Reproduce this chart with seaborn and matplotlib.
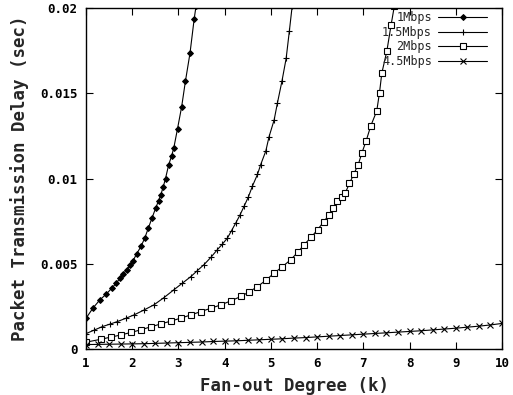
import matplotlib
matplotlib.use("Agg")
import matplotlib.pyplot as plt
import seaborn as sns
import pandas as pd

# ---- data ----
k_1mbps = [1.0, 1.15, 1.30, 1.43, 1.56, 1.65, 1.74, 1.81, 1.88, 1.95, 2.02, 2.10, 2.19,
           2.27, 2.35, 2.43, 2.51, 2.57, 2.62, 2.67, 2.72, 2.79, 2.85, 2.90, 2.98, 3.07,
           3.15, 3.25, 3.34, 3.38]
d_1mbps = [0.0018, 0.0024, 0.00288, 0.0032, 0.00357, 0.00385, 0.00416, 0.0044, 0.00465,
           0.0049, 0.00519, 0.0056, 0.00602, 0.0065, 0.0071, 0.0077, 0.00828, 0.0087,
           0.00906, 0.0095, 0.0100, 0.01082, 0.0113, 0.0118, 0.01292, 0.01422, 0.01569,
           0.01735, 0.01935, 0.0201]

k_15mbps = [1.0, 1.17, 1.35, 1.52, 1.68, 1.86, 2.04, 2.25, 2.47, 2.68, 2.90, 3.08, 3.27,
            3.41, 3.55, 3.70, 3.84, 3.95, 4.06, 4.15, 4.24, 4.33, 4.42, 4.51, 4.60, 4.71,
            4.78, 4.89, 4.96, 5.07, 5.14, 5.24, 5.33, 5.40, 5.46]
d_15mbps = [0.0009, 0.0011, 0.00131, 0.00146, 0.00161, 0.0018, 0.0020, 0.00228, 0.00259,
            0.0030, 0.00347, 0.00385, 0.00425, 0.0046, 0.00494, 0.00537, 0.00582, 0.00615,
            0.00651, 0.00695, 0.00739, 0.00785, 0.00837, 0.0089, 0.00955, 0.01024, 0.01082,
            0.01161, 0.01245, 0.01343, 0.01441, 0.01572, 0.01704, 0.01866, 0.0201]

k_2mbps = [1.0, 1.32, 1.54, 1.75, 1.97, 2.18, 2.40, 2.62, 2.84, 3.05, 3.27, 3.48, 3.70,
           3.92, 4.13, 4.35, 4.53, 4.71, 4.89, 5.07, 5.25, 5.43, 5.58, 5.72, 5.87, 6.01,
           6.14, 6.26, 6.35, 6.44, 6.53, 6.61, 6.70, 6.79, 6.89, 6.97, 7.06, 7.16, 7.29,
           7.35, 7.40, 7.51, 7.60, 7.67]
d_2mbps = [0.0004, 0.00057, 0.0007, 0.00082, 0.00097, 0.00112, 0.0013, 0.00147, 0.00164,
           0.00181, 0.0020, 0.00219, 0.00239, 0.00259, 0.00282, 0.00308, 0.00335, 0.00366,
           0.00403, 0.00445, 0.00483, 0.00524, 0.00567, 0.00612, 0.00655, 0.0070, 0.00745,
           0.00788, 0.00825, 0.00866, 0.0089, 0.00916, 0.00971, 0.01024, 0.01082, 0.01151,
           0.0122, 0.01308, 0.01396, 0.01504, 0.01618, 0.01749, 0.0190, 0.0201]

k_45mbps = [1.0, 1.25, 1.5, 1.75, 2.0, 2.25, 2.5, 2.75, 3.0, 3.25, 3.5, 3.75, 4.0, 4.25,
            4.5, 4.75, 5.0, 5.25, 5.5, 5.75, 6.0, 6.25, 6.5, 6.75, 7.0, 7.25, 7.5, 7.75,
            8.0, 8.25, 8.5, 8.75, 9.0, 9.25, 9.5, 9.75, 10.0]
d_45mbps = [0.00026, 0.00027, 0.00028, 0.00029, 0.00030, 0.00031, 0.00033, 0.00035,
            0.00037, 0.00039, 0.00041, 0.00044, 0.00046, 0.00048, 0.00051, 0.00054,
            0.00057, 0.00060, 0.00064, 0.00067, 0.00071, 0.00075, 0.00079, 0.00083,
            0.00087, 0.00091, 0.00095, 0.00099, 0.00103, 0.00107, 0.00112, 0.00117,
            0.00122, 0.00128, 0.00134, 0.00141, 0.00150]

series_labels = ["1Mbps", "1.5Mbps", "2Mbps", "4.5Mbps"]
x_ticks = [1, 2, 3, 4, 5, 6, 7, 8, 9, 10]
y_ticks = [0, 0.005, 0.01, 0.015, 0.02]
y_tick_labels = ["0", "0.005", "0.01", "0.015", "0.02"]

sns.set_style("ticks")
plt.rcParams["font.family"] = ["DejaVu Sans Mono", "DejaVu Sans"]

fig = plt.figure(figsize=(5.13, 3.95), dpi=100)
ax = fig.add_axes([86 / 513, 1 - 349 / 395, 416 / 513, 341 / 395])

styles = [
    dict(marker="D", markersize=3, markerfacecolor="black", markeredgecolor="black"),
    dict(marker="+", markersize=5, markeredgewidth=0.8, markeredgecolor="black"),
    dict(marker="s", markersize=4, markerfacecolor="white", markeredgecolor="black",
         markeredgewidth=0.8),
    dict(marker="x", markersize=4, markeredgewidth=0.8, markeredgecolor="black"),
]
data = [(k_1mbps, d_1mbps), (k_15mbps, d_15mbps), (k_2mbps, d_2mbps), (k_45mbps, d_45mbps)]

for (kx, dy), lab, st in zip(data, series_labels, styles):
    df = pd.DataFrame({"k": kx, "d": dy})
    sns.lineplot(data=df, x="k", y="d", ax=ax, color="black", linewidth=0.8,
                 label=lab, sort=True, estimator=None, **st)

ax.set_xlim(1, 10)
ax.set_ylim(0, 0.02)
ax.set_xticks(x_ticks)
ax.set_xticklabels([str(t) for t in x_ticks])
ax.set_yticks(y_ticks)
ax.set_yticklabels(y_tick_labels)
ax.tick_params(direction="in", top=True, right=True, length=5, width=0.8,
               labelsize=9, pad=6, colors="black")
for lbl in ax.get_xticklabels() + ax.get_yticklabels():
    lbl.set_fontweight("bold")
for sp in ax.spines.values():
    sp.set_linewidth(1.0)
    sp.set_color("black")

ax.set_xlabel("Fan-out Degree (k)", fontsize=12.5, fontweight="bold", labelpad=5)
ax.set_ylabel("Packet Transmission Delay (sec)", fontsize=12.5, fontweight="bold", labelpad=8)

leg = ax.legend(loc="upper right", bbox_to_anchor=(0.965, 0.99), frameon=False,
                markerfirst=False, fontsize=8.5, handlelength=4.2, handletextpad=0.5,
                labelspacing=0.12, borderpad=0, borderaxespad=0)
for t in leg.get_texts():
    t.set_ha("right")

fig.savefig("out.png", dpi=100)
